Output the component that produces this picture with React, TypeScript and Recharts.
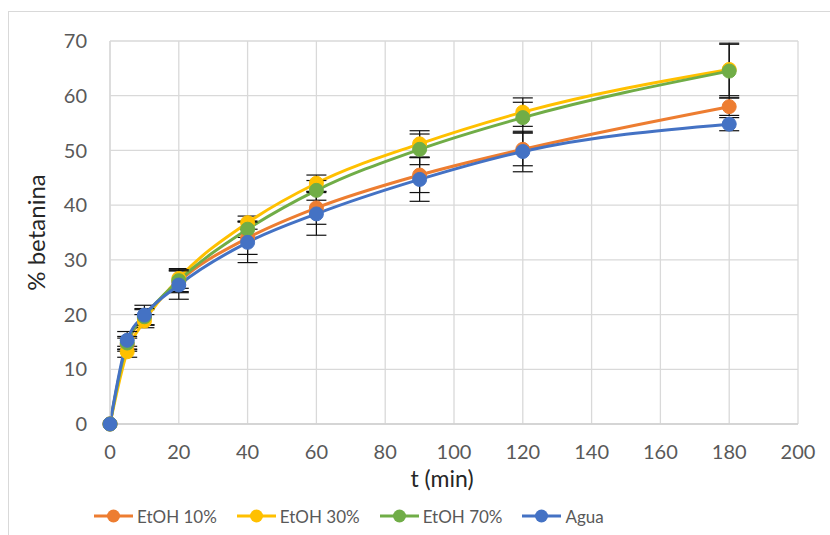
import React from "react";
import { LineChart, Line, XAxis, YAxis, CartesianGrid, ErrorBar } from "recharts";

const times = [0, 5, 10, 20, 40, 60, 90, 120, 180];
const etoh10 = [0, 14.5, 19.5, 26.0, 34.0, 39.5, 45.5, 50.2, 58.0];
const etoh30 = [0, 13.2, 18.8, 26.6, 36.8, 44.0, 51.2, 57.0, 64.8];
const etoh70 = [0, 14.8, 19.6, 26.2, 35.6, 42.7, 50.2, 56.0, 64.5];
const agua = [0, 15.3, 19.9, 25.4, 33.2, 38.4, 44.7, 49.8, 54.8];
const err10 = [0, 1.2, 1.4, 2.0, 3.0, 3.0, 3.2, 3.0, 1.6];
const err30 = [0, 1.0, 1.2, 1.8, 1.2, 1.5, 2.4, 2.6, 4.8];
const err70 = [0, 1.2, 1.5, 2.0, 1.5, 1.8, 2.8, 2.8, 4.9];
const errAgua = [0, 1.6, 1.8, 2.6, 3.7, 3.9, 4.0, 3.7, 1.2];
const xTicks = [0, 20, 40, 60, 80, 100, 120, 140, 160, 180, 200];
const yTicks = [0, 10, 20, 30, 40, 50, 60, 70];

const series = [
  { key: "e10", err: "err10", name: "EtOH 10%", color: "#ED7D31" },
  { key: "e30", err: "err30", name: "EtOH 30%", color: "#FFC000" },
  { key: "e70", err: "err70", name: "EtOH 70%", color: "#70AD47" },
  { key: "agua", err: "errAgua", name: "Agua", color: "#4472C4" },
];

const data = times.map((t, i) => ({
  t,
  e10: etoh10[i],
  e30: etoh30[i],
  e70: etoh70[i],
  agua: agua[i],
  err10: err10[i],
  err30: err30[i],
  err70: err70[i],
  errAgua: errAgua[i],
}));

const font = "Lato, 'Open Sans', sans-serif";
const tickColor = "#595959";
const titleColor = "#262626";

export default function App() {
  return (
    <div style={{ position: "absolute", left: 0, top: 0, width: 830, height: 535, background: "#fff", overflow: "hidden", fontFamily: font }}>
      <div style={{ position: "absolute", left: 8, top: 11, width: 900, height: 600, border: "1px solid #d9d9d9" }} />
      <LineChart width={830} height={535} data={data} margin={{ top: 41, right: 32, left: 0, bottom: 0 }}>
        <CartesianGrid stroke="#d9d9d9" strokeWidth={1.3} />
        <XAxis
          dataKey="t"
          type="number"
          domain={[0, 200]}
          ticks={xTicks}
          height={111}
          tickLine={false}
          axisLine={{ stroke: "#d0d0d0", strokeWidth: 1.3 }}
          tick={{ fill: tickColor, fontSize: 20, fontFamily: font }}
          tickMargin={15}
          label={{ value: "t (min)", position: "insideTop", offset: 47, dx: -12, fill: titleColor, fontSize: 23, fontFamily: font }}
        />
        <YAxis
          type="number"
          domain={[0, 70]}
          ticks={yTicks}
          width={110}
          tickLine={false}
          axisLine={{ stroke: "#d9d9d9", strokeWidth: 1.3 }}
          tick={{ fill: tickColor, fontSize: 20, fontFamily: font }}
          tickMargin={17}
          label={{ value: "% betanina", angle: -90, position: "insideLeft", offset: 36, fill: titleColor, fontSize: 24, fontFamily: font, style: { textAnchor: "middle" } }}
        />
        {series.map((s) => (
          <Line
            key={s.key}
            type="monotone"
            dataKey={s.key}
            name={s.name}
            stroke={s.color}
            strokeWidth={3}
            dot={{ r: 7, fill: s.color, stroke: s.color, strokeWidth: 1 }}
            isAnimationActive={false}
          >
            <ErrorBar dataKey={s.err} direction="y" width={10} stroke="#111" strokeWidth={1.2} />
          </Line>
        ))}
      </LineChart>
      <div style={{ position: "absolute", left: 94, top: 505, display: "flex", alignItems: "center", color: tickColor, fontSize: 17 }}>
        {series.map((s) => (
          <div key={s.key} style={{ display: "flex", alignItems: "center", marginRight: 20 }}>
            <svg width={39} height={22} style={{ marginRight: 4 }}>
              <line x1={0} y1={11} x2={39} y2={11} stroke={s.color} strokeWidth={3} />
              <circle cx={19.5} cy={11} r={6.5} fill={s.color} />
            </svg>
            <span>{s.name}</span>
          </div>
        ))}
      </div>
    </div>
  );
}
